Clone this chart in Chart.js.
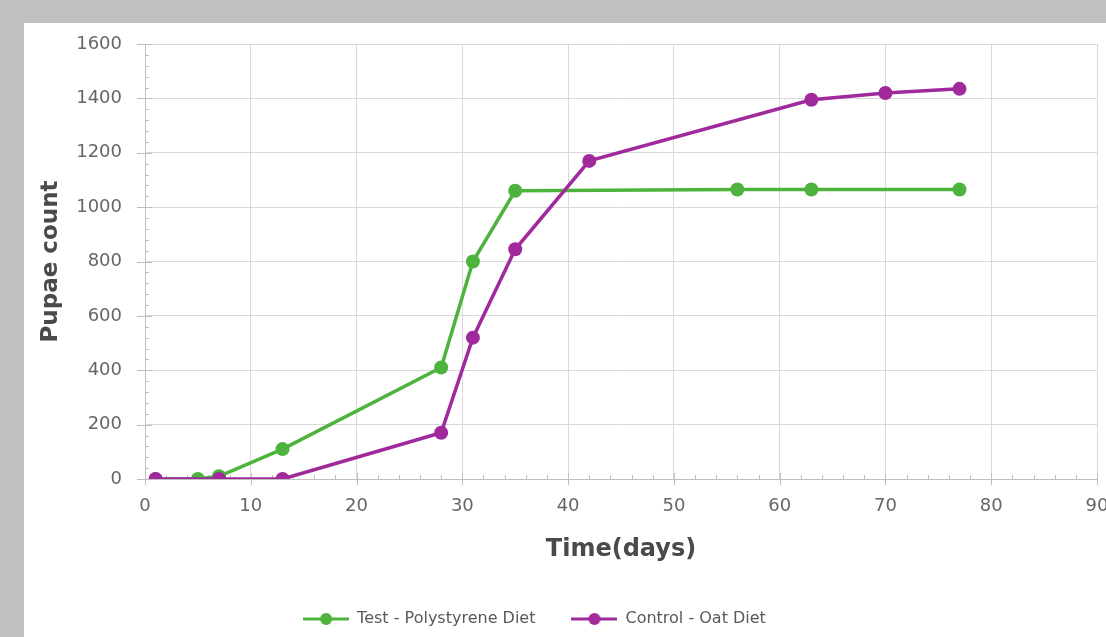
<!DOCTYPE html>
<html>
<head>
<meta charset="utf-8">
<title>Pupae count over time</title>
<script src="https://cdn.jsdelivr.net/npm/chart.js@4/dist/chart.umd.min.js"></script>
<style>
  html, body { margin: 0; padding: 0; background: #c0c0c0; overflow: hidden; }
  #panel { position: absolute; left: 24px; top: 23px; width: 1092px; height: 614px; background: #fff; }
  #chart { display: block; }
</style>
</head>
<body>
<div id="panel"><canvas id="chart" width="1092" height="614"></canvas></div>
<script>
// Data
const testDays = [1, 5, 7, 13, 28, 31, 35, 56, 63, 77];
const testPupae = [0, 0, 10, 110, 410, 800, 1060, 1065, 1065, 1065];
const controlDays = [1, 7, 13, 28, 31, 35, 42, 63, 70, 77];
const controlPupae = [0, 0, 0, 170, 520, 845, 1170, 1395, 1420, 1435];

const seriesNames = ["Test - Polystyrene Diet", "Control - Oat Diet"];
const seriesColors = ["#4db33d", "#a02a9b"];

const GREY_TEXT = "#666666";
const GRID = "#d9d9d9";
const AXIS = "#bfbfbf";

// legend marker: short line with a dot, like the spreadsheet legend
function legendMarker(color) {
  const c = document.createElement("canvas");
  c.width = 46;
  c.height = 14;
  const g = c.getContext("2d");
  g.strokeStyle = color;
  g.lineWidth = 3;
  g.beginPath();
  g.moveTo(0, 7);
  g.lineTo(46, 7);
  g.stroke();
  g.fillStyle = color;
  g.beginPath();
  g.arc(23, 7, 6, 0, Math.PI * 2);
  g.fill();
  return c;
}

// major ticks crossing the axes + small minor ticks inside
const axisTicks = {
  id: "axisTicks",
  beforeDatasetsDraw(chart) {
    const { ctx, chartArea, scales } = chart;
    const xs = scales.x, ys = scales.y;
    ctx.save();
    ctx.strokeStyle = AXIS;
    ctx.lineWidth = 1;
    ctx.beginPath();
    const xStep = 10, yStep = 200;
    for (let v = xs.min; v <= xs.max + 0.001; v += xStep / 5) {
      const px = Math.round(xs.getPixelForValue(v)) + 0.5;
      const major = Math.abs(v / xStep - Math.round(v / xStep)) < 0.001;
      ctx.moveTo(px, chartArea.bottom + (major ? 6 : 0));
      ctx.lineTo(px, chartArea.bottom - (major ? 6 : 4));
    }
    for (let v = ys.min; v <= ys.max + 0.001; v += yStep / 5) {
      const py = Math.round(ys.getPixelForValue(v)) + 0.5;
      const major = Math.abs(v / yStep - Math.round(v / yStep)) < 0.001;
      ctx.moveTo(chartArea.left - (major ? 8 : 0), py);
      ctx.lineTo(chartArea.left + (major ? 7 : 4), py);
    }
    ctx.stroke();
    ctx.restore();
  },
};

// nudge the legend a little left, as in the reference
const legendShift = {
  id: "legendShift",
  afterLayout(chart) {
    if (chart.legend) {
      chart.legend.left -= 26;
      chart.legend.right -= 26;
    }
  },
};

const toPoints = (xs, ys) => xs.map((x, i) => ({ x, y: ys[i] }));

const ctx = document.getElementById("chart").getContext("2d");
const chart = new Chart(ctx, {
  type: "line",
  data: {
    datasets: [
      {
        label: seriesNames[0],
        data: toPoints(testDays, testPupae),
        borderColor: seriesColors[0],
        backgroundColor: seriesColors[0],
        pointBackgroundColor: seriesColors[0],
        pointBorderColor: seriesColors[0],
        borderWidth: 3.5,
        pointRadius: 7,
        pointBorderWidth: 0,
        tension: 0,
        order: 1,
      },
      {
        label: seriesNames[1],
        data: toPoints(controlDays, controlPupae),
        borderColor: seriesColors[1],
        backgroundColor: seriesColors[1],
        pointBackgroundColor: seriesColors[1],
        pointBorderColor: seriesColors[1],
        borderWidth: 3.5,
        pointRadius: 7,
        pointBorderWidth: 0,
        tension: 0,
        order: 0,
      },
    ],
  },
  options: {
    responsive: false,
    animation: false,
    devicePixelRatio: 1,
    layout: { padding: { left: 0, top: 21, right: 19, bottom: 0 } },
    scales: {
      x: {
        type: "linear",
        min: 0,
        max: 90,
        afterFit: (s) => {
          s.height = 96;
          s.paddingLeft = 0;
          s.paddingRight = 0;
        },
        ticks: {
          stepSize: 10,
          padding: 17,
          color: GREY_TEXT,
          font: { family: "DejaVu Sans", size: 18 },
          callback: (v) => String(v),
        },
        grid: { color: GRID, lineWidth: 1, drawTicks: false },
        border: { color: AXIS, width: 1 },
        title: {
          display: true,
          text: "Time(days)",
          color: "#4a4a4a",
          padding: { top: 0, bottom: 11 },
          font: { family: "DejaVu Sans", size: 24, weight: "bold" },
        },
      },
      y: {
        min: 0,
        max: 1600,
        afterFit: (s) => {
          s.width = 121;
          s.paddingTop = 0;
          s.paddingBottom = 0;
        },
        ticks: {
          stepSize: 200,
          padding: 23,
          color: GREY_TEXT,
          font: { family: "DejaVu Sans", size: 18 },
          callback: (v) => String(v),
        },
        grid: { color: GRID, lineWidth: 1, drawTicks: false },
        border: { color: AXIS, width: 1 },
        title: {
          display: true,
          text: "Pupae count",
          color: "#4a4a4a",
          padding: { top: 13, bottom: 0 },
          font: { family: "DejaVu Sans", size: 23, weight: "bold" },
        },
      },
    },
    plugins: {
      tooltip: { enabled: false },
      legend: {
        position: "bottom",
        labels: {
          usePointStyle: true,
          pointStyleWidth: 46,
          padding: 36,
          color: "#595959",
          font: { family: "DejaVu Sans", size: 16 },
          sort: (a, b) => a.datasetIndex - b.datasetIndex,
          generateLabels: (c) =>
            Chart.defaults.plugins.legend.labels.generateLabels(c).map((item) => {
              item.pointStyle = legendMarker(seriesColors[item.datasetIndex]);
              return item;
            }),
        },
      },
    },
  },
  plugins: [axisTicks, legendShift],
});
</script>
</body>
</html>
